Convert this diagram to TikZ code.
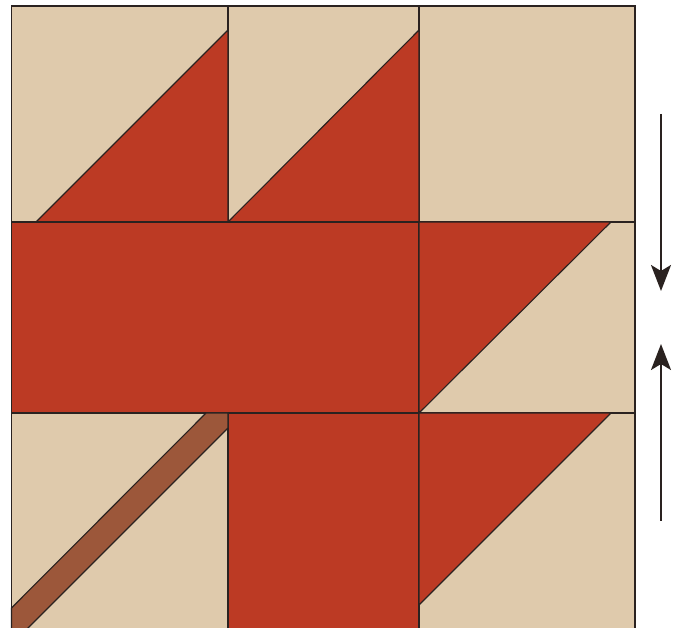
\documentclass[tikz,border=0pt]{standalone}
\usetikzlibrary{arrows.meta}
\definecolor{tan}{HTML}{DFCAAC}
\definecolor{leaf}{HTML}{BC3A24}
\definecolor{stem}{HTML}{9C573A}
\definecolor{ink}{HTML}{2A2220}
\tikzset{
  patch/.style={draw=ink, line width=1.1pt, line join=miter},
  tanpatch/.style={patch, fill=tan},
  leafpatch/.style={patch, fill=leaf},
  stempatch/.style={patch, fill=stem},
  grainarrow/.style={draw=ink, line width=2.2pt, -{Stealth[length=26pt,width=20pt,inset=6pt]}}
}
\begin{document}
\begin{tikzpicture}[x=1pt,y=-1pt]
\useasboundingbox (0,0) rectangle (681,628);
% background cells
\path[tanpatch] (11.5,6) rectangle (228,222);
\path[tanpatch] (228,6) rectangle (419,222);
\path[tanpatch] (419,6) rectangle (635,222);
\path[tanpatch] (419,222) rectangle (635,413);
\path[tanpatch] (11.5,413) rectangle (228,634);
\path[tanpatch] (419,413) rectangle (635,634);
% top leaves
\path[leafpatch] (36,222) -- (228,30) -- (228,222) -- cycle;
\path[leafpatch] (228,222) -- (419,30) -- (419,222) -- cycle;
% middle band
\path[leafpatch] (11.5,222) rectangle (419,413);
\path[leafpatch] (419,222) -- (611,222) -- (419,413) -- cycle;
% bottom
\path[leafpatch] (228,413) rectangle (419,634);
\path[leafpatch] (419,413) -- (611,413) -- (419,605) -- cycle;
% stem
\path[stempatch] (206,413) -- (228,413) -- (228,428) -- (26,630) -- (11.5,630) -- (11.5,608) -- cycle;
% grain arrows
\coordinate (d1) at (661,114);
\coordinate (d2) at (661,291);
\coordinate (u1) at (661,521);
\coordinate (u2) at (661,344);
\draw[grainarrow] (d1) -- (d2);
\draw[grainarrow] (u1) -- (u2);
\end{tikzpicture}
\end{document}
